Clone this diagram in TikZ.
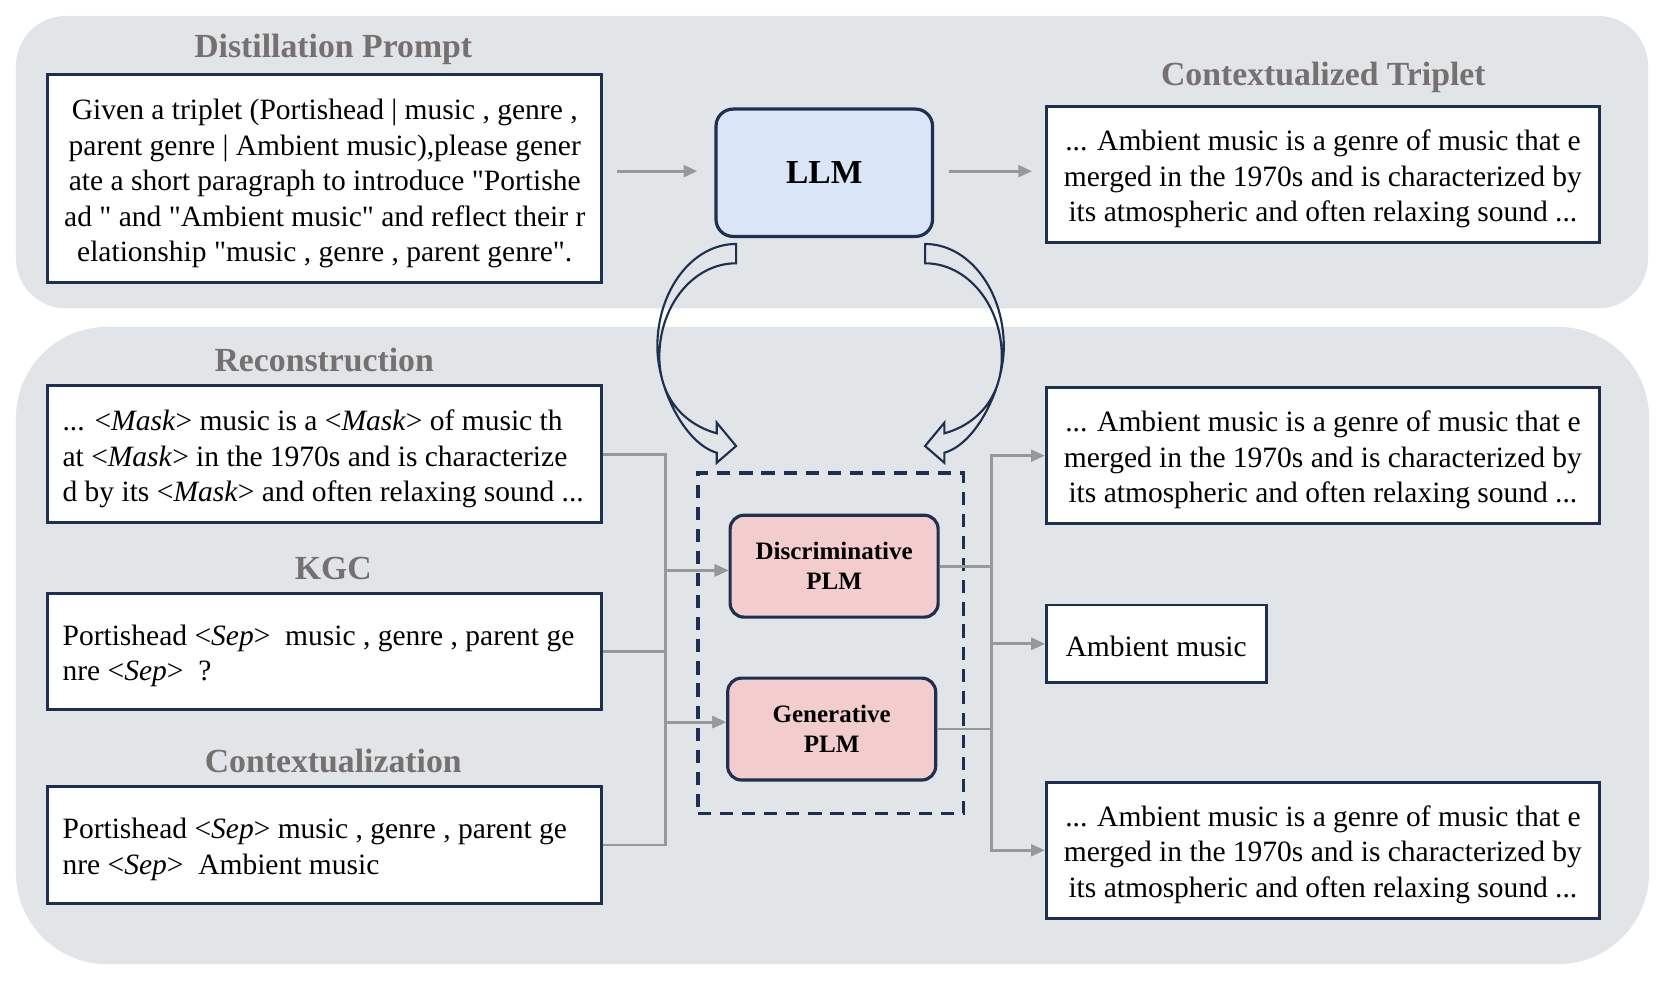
\documentclass[tikz,border=0pt]{standalone}
\usepackage{fontspec}
\setmainfont{Liberation Serif}[Ligatures=TeXOff]
\usetikzlibrary{arrows.meta,calc}
\definecolor{panelbg}{RGB}{226,229,231}
\definecolor{navy}{RGB}{30,48,82}
\definecolor{llmfill}{RGB}{218,230,248}
\definecolor{plmfill}{RGB}{243,205,206}
\definecolor{titlegray}{RGB}{118,113,113}
\definecolor{conngray}{RGB}{152,152,152}
\newcommand\bodyfnt{\fontsize{13.9}{16.75}\selectfont}
\newcommand\ttlfnt{\fontsize{15.9}{19}\selectfont\bfseries}
\begin{document}
\begin{tikzpicture}[x=0.5pt,y=-0.5pt,
  tbox/.style={draw=navy, line width=1.4pt, fill=white, inner sep=0pt},
  txt/.style={inner sep=0pt, font=\bodyfnt, align=left, anchor=west},
  txtc/.style={inner sep=0pt, font=\bodyfnt, align=center},
  ttl/.style={inner sep=0pt, font=\ttlfnt, text=titlegray, anchor=base},
  plm/.style={draw=navy, line width=1.5pt, fill=plmfill, rounded corners=6.5pt, minimum width=98pt, minimum height=48pt, inner sep=0pt, align=center, font=\fontsize{11.8}{14.1}\selectfont\bfseries},
  conn/.style={draw=conngray, line width=1.3pt, -{Triangle[length=6.5pt,width=5.5pt]}},
  curvarrow/.style={draw=navy, line width=1pt, line join=miter}
]
\useasboundingbox (0,0) rectangle (1568,925);
% panels
\fill[panelbg, rounded corners=23.5pt] (15,15) rectangle (1553,290.5);
\fill[panelbg, rounded corners=43pt] (15,308) rectangle (1554,908.5);

% titles
\node[ttl] (t-prompt) at (314,54) {Distillation Prompt};
\node[ttl] (t-trip) at (1247,81) {Contextualized Triplet};
\node[ttl] (t-recon) at (305.5,350) {Reconstruction};
\node[ttl] (t-kgc) at (314,546) {KGC};
\node[ttl] (t-ctx) at (314,727.5) {Contextualization};

% ensemble dashed box
\node[draw=navy, line width=1.6pt, dash pattern=on 6.2pt off 4.2pt, minimum width=125pt, minimum height=160.5pt, inner sep=0pt] (ens) at (782.7,606.3) {};

% left boxes
\node[tbox, minimum width=261pt, minimum height=98pt] (prompt) at (306,168.5) {};
\node[txtc] (prompt-t) at ($(prompt)+(0,4.5)$)
 {Given a triplet (Portishead | music , genre ,\\parent genre | Ambient music),please gener\\ate a short paragraph to introduce "Portishe\\ad " and "Ambient music" and reflect their r\\elationship "music , genre , parent genre".};
\node[tbox, minimum width=261pt, minimum height=64.4pt] (recon) at (306,428.1) {};
\node[txt] (recon-t) at ($(recon.west)+(15,4.5)$)
 {... <\textit{Mask}> music is a <\textit{Mask}> of music th\\at <\textit{Mask}> in the 1970s and is characterize\\d by its <\textit{Mask}> and often relaxing sound ...};
\node[tbox, minimum width=261pt, minimum height=54.6pt] (kgc) at (306,614) {};
\node[txt] (kgc-t) at ($(kgc.west)+(15,4)$)
 {Portishead <\textit{Sep}>\ \ music , genre , parent ge\\nre <\textit{Sep}>\ \ ?};
\node[tbox, minimum width=261pt, minimum height=55.3pt] (ctx) at (306,796.3) {};
\node[txt] (ctx-t) at ($(ctx.west)+(15,4)$)
 {Portishead <\textit{Sep}> music , genre , parent ge\\nre <\textit{Sep}>\ \ Ambient music};

% LLM
\node[draw=navy, fill=llmfill, line width=1.5pt, rounded corners=8pt, minimum width=102pt, minimum height=60pt, inner sep=0pt, font=\fontsize{15.8}{19}\selectfont\bfseries] (llm) at (776.7,162.8) {LLM};

% PLMs
\node[plm] (disc) at (786,533.5) {Discriminative\\PLM};
\node[plm] (gen) at (783.7,687) {Generative\\PLM};

% right boxes
\node[tbox, minimum width=260.6pt, minimum height=64pt] (trip) at (1246.6,164.5) {};
\node[txtc] (trip-t) at ($(trip)+(0,4)$)
 {... Ambient music is a genre of music that e\\merged in the 1970s and is characterized by\\its atmospheric and often relaxing sound ...};
\node[tbox, minimum width=260.6pt, minimum height=64.1pt] (r1) at (1246.6,429.4) {};
\node[txtc] (r1-t) at ($(r1)+(0,4)$)
 {... Ambient music is a genre of music that e\\merged in the 1970s and is characterized by\\its atmospheric and often relaxing sound ...};
\node[tbox, minimum width=103.5pt, minimum height=36.6pt] (amb) at (1089.5,606.7) {};
\node[txtc] (amb-t) at ($(amb)+(0,2.5)$) {Ambient music};
\node[tbox, minimum width=260.6pt, minimum height=64.2pt] (r3) at (1246.6,801.2) {};
\node[txtc] (r3-t) at ($(r3)+(0,4)$)
 {... Ambient music is a genre of music that e\\merged in the 1970s and is characterized by\\its atmospheric and often relaxing sound ...};

% bus coordinates
\coordinate (lbus) at (627,0);
\coordinate (rbus) at (934,0);
\coordinate (discin) at ($(disc.west)+(0,4)$);
\coordinate (genin) at ($(gen.west)+(0,-6.5)$);

% connectors
\draw[conn] ($(prompt.east |- llm.west)+(13,-1.5)$) -- ($(llm.west)+(-16,-1.5)$);
\draw[conn] ($(llm.east)+(14,-1.5)$) -- ($(trip.west |- llm.east)+(-12,-1.5)$);

\draw[conn] (recon.east) -| (lbus |- discin) -- (discin);
\draw[conn] (kgc.east) -| (lbus |- discin) -- (discin);
\draw[conn] (kgc.east) -| (lbus |- genin) -- (genin);
\draw[conn] (ctx.east) -| (lbus |- genin) -- (genin);

\draw[conn] (disc.east) -| (rbus |- r1.west) -- (r1.west);
\draw[conn] (disc.east) -| (rbus |- amb.west) -- (amb.west);
\draw[conn] (gen.east) -| (rbus |- amb.west) -- (amb.west);
\draw[conn] (gen.east) -| (rbus |- r3.west) -- (r3.west);

% curved block arrows (LLM <-> PLMs)
\draw[curvarrow] (693.6,229.9) .. controls (652.6,229.9) and (619.4,273.3) .. (619.4,326.7)
  .. controls (619.4,365) and (645,418) .. (675.4,426.6)
  -- (675.4,436.1) -- (693.6,420.3) -- (675.4,398.3) -- (675.4,408.3)
  .. controls (645,400) and (621.3,375) .. (621.3,336.1)
  .. controls (621.3,287.5) and (653.7,248.1) .. (693.6,248.1) -- cycle;
\begin{scope}[xshift=782.65pt, xscale=-1]
\draw[curvarrow] (693.6,229.9) .. controls (652.6,229.9) and (619.4,273.3) .. (619.4,326.7)
  .. controls (619.4,365) and (645,418) .. (675.4,426.6)
  -- (675.4,436.1) -- (693.6,420.3) -- (675.4,398.3) -- (675.4,408.3)
  .. controls (645,400) and (621.3,375) .. (621.3,336.1)
  .. controls (621.3,287.5) and (653.7,248.1) .. (693.6,248.1) -- cycle;
\end{scope}
\end{tikzpicture}
\end{document}
